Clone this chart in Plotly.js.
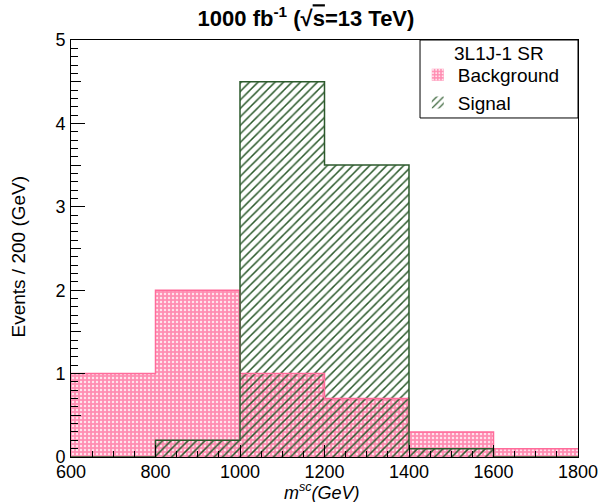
<!DOCTYPE html>
<html>
<head>
<meta charset="utf-8">
<script src="https://cdn.plot.ly/plotly-3.0.1.min.js"></script>
<style>html,body{margin:0;padding:0;background:#fff;}#chart{width:601px;height:502px;}</style>
</head>
<body>
<div id="chart"></div>
<script>
// Data
const binEdges = [600, 800, 1000, 1200, 1400, 1600, 1800];
const backgroundValues = [1.0, 2.0, 1.0, 0.7, 0.3, 0.1];
const signalValues = [0.0, 0.2, 4.5, 3.5, 0.1, 0.0];
const seriesNames = ["Background", "Signal"];
const legendHeader = "3L1J-1 SR";
const xTickValues = [600, 800, 1000, 1200, 1400, 1600, 1800];
const yTickValues = [0, 1, 2, 3, 4, 5];

const centers = binEdges.slice(0, -1).map((e, i) => (e + binEdges[i + 1]) / 2);
const widths = binEdges.slice(0, -1).map((e, i) => binEdges[i + 1] - e);
const stepY = v => v.concat([v[v.length - 1]]);

const pinkLine = "#ff6b9a";
const green = "#2c5a2c";
const font = "Liberation Sans, Arial, Helvetica, sans-serif";

const traces = [
  {
    type: "bar", name: seriesNames[0], x: centers, y: backgroundValues, width: widths,
    marker: { color: "#ff8fb3", line: { width: 0 },
      pattern: { shape: ".", fillmode: "replace", bgcolor: "#ff8db2", fgcolor: "#ffe3ec", size: 4, solidity: 0.3 } },
    hoverinfo: "skip"
  },
  {
    type: "bar", name: seriesNames[1], x: centers, y: signalValues, width: widths,
    marker: { color: green, line: { width: 0 },
      pattern: { shape: "/", fillmode: "replace", fgcolor: green, size: 6, solidity: 0.25 } },
    hoverinfo: "skip"
  },
  {
    type: "scatter", mode: "lines", x: binEdges, y: stepY(backgroundValues),
    line: { shape: "hv", color: pinkLine, width: 1.5 }, showlegend: false, hoverinfo: "skip"
  },
  {
    type: "scatter", mode: "lines", x: binEdges, y: stepY(signalValues), yaxis: "y2",
    line: { shape: "hv", color: green, width: 1.5 }, showlegend: false, hoverinfo: "skip"
  }
];

const layout = {
  width: 601, height: 502,
  margin: { l: 71, r: 23, t: 40, b: 45, pad: 0 },
  paper_bgcolor: "#fff", plot_bgcolor: "#fff",
  barmode: "overlay", bargap: 0,
  font: { family: font, size: 18, color: "#000" },
  showlegend: true,
  title: {
    text: "<b>1000 fb<sup>-1</sup> (√<span style=\"text-decoration:overline\">s</span>=13 TeV)</b>",
    font: { family: font, size: 22, color: "#000" },
    x: 0.4635, xanchor: "center", xref: "paper", y: 0.963, yanchor: "middle"
  },
  xaxis: {
    range: [600, 1800], tickvals: xTickValues, ticktext: xTickValues.map(String),
    ticks: "inside", ticklen: 12, tickwidth: 1, tickcolor: "#000",
    minor: { dtick: 50, tick0: 600, ticks: "inside", ticklen: 6, tickwidth: 1, tickcolor: "#000", showgrid: false },
    showline: true, linecolor: "#000", linewidth: 1, mirror: true,
    showgrid: false, zeroline: false, tickfont: { family: font, size: 18 },
    ticklabelstandoff: -2
  },
  yaxis: {
    range: [0, 5], tickvals: yTickValues, ticktext: yTickValues.map(String),
    ticks: "inside", ticklen: 14, tickwidth: 1, tickcolor: "#000",
    minor: { dtick: 0.1, tick0: 0, ticks: "inside", ticklen: 7, tickwidth: 1, tickcolor: "#000", showgrid: false },
    showline: true, linecolor: "#000", linewidth: 1, mirror: true,
    showgrid: false, zeroline: false, tickfont: { family: font, size: 18 },
    ticklabelstandoff: 1
  },
  yaxis2: {
    overlaying: "y", side: "left", range: [0, 5], dtick: 0.5, tick0: 0,
    ticks: "inside", ticklen: 10, tickwidth: 1, tickcolor: "#000",
    showticklabels: false, showgrid: false, zeroline: false, showline: false
  },
  legend: {
    x: 0.684, xanchor: "left", y: 0.962, yanchor: "top", xref: "paper", yref: "paper",
    bgcolor: "rgba(0,0,0,0)", borderwidth: 0,
    font: { family: font, size: 19, color: "#000" },
    itemwidth: 30, traceorder: "normal", tracegroupgap: 0
  },
  shapes: [
    { type: "rect", xref: "paper", yref: "paper", x0: 0.6884, x1: 1, y0: 0.813, y1: 1,
      line: { color: "#000", width: 1 }, fillcolor: "#fff", layer: "above" }
  ],
  annotations: [
    {
      text: legendHeader, xref: "paper", yref: "paper", x: 0.844, y: 1, yshift: -13,
      xanchor: "center", yanchor: "middle", showarrow: false, font: { family: font, size: 19 }
    },
    {
      text: "<i>m<sup>sc</sup>(GeV)</i>", xref: "paper", yref: "paper", x: 0.495, y: 0, yshift: -34,
      xanchor: "center", yanchor: "middle", showarrow: false, font: { family: font, size: 18 }
    },
    {
      text: "Events / 200 (GeV)", xref: "paper", yref: "paper", x: 0, xshift: -53, y: 0.5, yshift: -8,
      xanchor: "center", yanchor: "middle", textangle: -90, showarrow: false, font: { family: font, size: 19 }
    }
  ]
};

Plotly.newPlot("chart", traces, layout, { displayModeBar: false, staticPlot: true });
</script>
</body>
</html>
